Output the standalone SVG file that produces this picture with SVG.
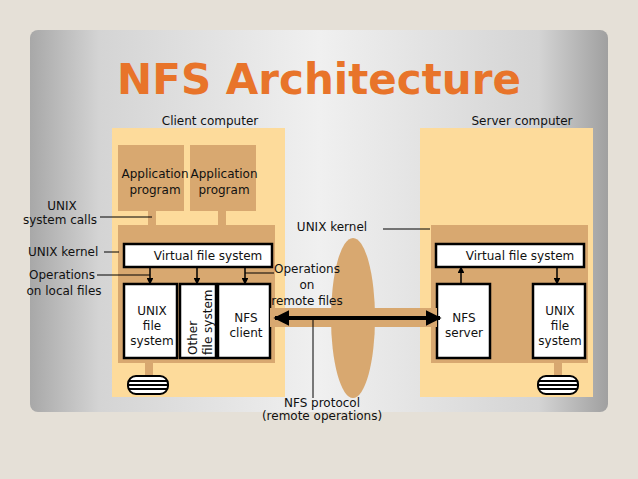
<svg xmlns="http://www.w3.org/2000/svg" width="638" height="479" viewBox="0 0 638 479">
<defs>
<linearGradient id="bg" x1="0" y1="0" x2="1" y2="0">
<stop offset="0" stop-color="#a8a8a8"/><stop offset="0.12" stop-color="#d4d4d4"/><stop offset="0.5" stop-color="#f0f0f0"/><stop offset="0.88" stop-color="#d4d4d4"/><stop offset="1" stop-color="#a0a0a0"/>
</linearGradient>
<marker id="ah" viewBox="0 0 10 10" refX="9" refY="5" markerWidth="4" markerHeight="4" orient="auto-start-reverse"><path d="M0,0L10,5L0,10z" fill="#000"/></marker>
<marker id="bh" viewBox="0 0 10 10" refX="9" refY="5" markerWidth="4.5" markerHeight="4.5" orient="auto-start-reverse"><path d="M0,0L10,5L0,10z" fill="#000"/></marker>
</defs>
<style>
text{font-family:"DejaVu Sans",Verdana,sans-serif;font-size:12px;fill:#111}
.c{text-anchor:middle}
.comp{fill:#fddb9b}
.dk{fill:#d8a870}
.wb{fill:#fff;stroke:#000;stroke-width:2.5}
.ln{stroke:#000;stroke-width:1;fill:none}
.ar{stroke:#000;stroke-width:1.5;marker-end:url(#bh)}
.disk{fill:#fff;stroke:#000;stroke-width:2}
</style>
<rect width="638" height="479" fill="#e5e0d7"/>
<rect x="30" y="30" width="578" height="382" rx="8" fill="url(#bg)"/>
<text x="319" y="94" class="c" style="font-size:42px;font-weight:bold;fill:#e8742a;font-family:'DejaVu Sans',sans-serif">NFS Architecture</text>

<g id="client">
<rect class="comp" x="112" y="128" width="173" height="269"/>
<text x="210" y="125" class="c">Client computer</text>
<rect class="dk" x="148" y="211" width="8" height="14"/>
<rect class="dk" x="218" y="211" width="8" height="14"/>
<rect class="dk" x="118" y="225" width="157" height="138"/>
<rect class="dk" x="145" y="363" width="8" height="15"/>
</g>
<g id="app1"><rect class="dk" x="118" y="145" width="66" height="66"/><text x="155" y="178" class="c">Application</text><text x="155" y="194" class="c">program</text></g>
<g id="app2"><rect class="dk" x="190" y="145" width="66" height="66"/><text x="224" y="178" class="c">Application</text><text x="224" y="194" class="c">program</text></g>
<g id="vfs1"><rect class="wb" x="124" y="244" width="148" height="23"/><text x="208" y="260" class="c">Virtual file system</text></g>
<g id="ufs1"><rect class="wb" x="124" y="284" width="53" height="74"/><text x="152" y="315" class="c">UNIX</text><text x="152" y="330" class="c">file</text><text x="152" y="345" class="c">system</text></g>
<g id="other"><rect class="wb" x="180" y="284" width="36" height="74"/><text transform="translate(197,355) rotate(-90)">Other</text><text transform="translate(212,355) rotate(-90)">file system</text></g>
<g id="nfsclient"><rect class="wb" x="218" y="284" width="52" height="74"/><text x="246" y="322" class="c">NFS</text><text x="246" y="337" class="c">client</text></g>
<g id="disk1"><g class="disk"><rect x="128" y="376" width="40" height="18" rx="8"/><path d="M129,381h38M129,385h38M129,389h38"/></g></g>

<g id="server">
<rect class="comp" x="420" y="128" width="173" height="269"/>
<text x="522" y="125" class="c">Server computer</text>
<rect class="dk" x="431" y="225" width="157" height="138"/>
<rect class="dk" x="554" y="363" width="8" height="15"/>
</g>
<g id="vfs2"><rect class="wb" x="436" y="244" width="148" height="23"/><text x="520" y="260" class="c">Virtual file system</text></g>
<g id="nfsserver"><rect class="wb" x="437" y="284" width="53" height="74"/><text x="464" y="322" class="c">NFS</text><text x="464" y="337" class="c">server</text></g>
<g id="ufs2"><rect class="wb" x="533" y="284" width="52" height="74"/><text x="560" y="315" class="c">UNIX</text><text x="560" y="330" class="c">file</text><text x="560" y="345" class="c">system</text></g>
<g id="disk2"><g class="disk"><rect x="538" y="376" width="40" height="18" rx="8"/><path d="M539,381h38M539,385h38M539,389h38"/></g></g>

<g id="network">
<ellipse cx="353" cy="318" rx="22" ry="80" fill="#d8a870"/>
<rect class="dk" x="270" y="308" width="167" height="19"/>
</g>

<g id="connectors">
<line class="ar" x1="150" y1="267" x2="150" y2="284"/>
<line class="ar" x1="197" y1="267" x2="197" y2="284"/>
<line class="ar" x1="245" y1="267" x2="245" y2="284"/>
<line class="ar" x1="461" y1="284" x2="461" y2="267"/>
<line class="ar" x1="557" y1="267" x2="557" y2="284"/>
<line x1="275" y1="318" x2="440" y2="318" stroke="#000" stroke-width="4" marker-start="url(#ah)" marker-end="url(#ah)"/>
<line class="ln" x1="100" y1="217" x2="152" y2="217"/>
<line class="ln" x1="104" y1="252" x2="119" y2="252"/>
<line class="ln" x1="97" y1="275" x2="150" y2="275"/>
<line class="ln" x1="245" y1="273" x2="274" y2="273"/>
<line class="ln" x1="383" y1="229" x2="430" y2="229"/>
<line class="ln" x1="313" y1="320" x2="313" y2="398"/>
</g>

<g id="labels">
<text x="62" y="210" class="c">UNIX</text>
<text x="60" y="224" class="c">system calls</text>
<text x="28" y="256">UNIX kernel</text>
<text x="62" y="279" class="c">Operations</text>
<text x="64" y="295" class="c">on local files</text>
<text x="332" y="231" class="c">UNIX kernel</text>
<text x="307" y="273" class="c">Operations</text>
<text x="307" y="289" class="c">on</text>
<text x="307" y="305" class="c">remote files</text>
<text x="322" y="407" class="c">NFS protocol</text>
<text x="322" y="420" class="c">(remote operations)</text>
</g>
</svg>
